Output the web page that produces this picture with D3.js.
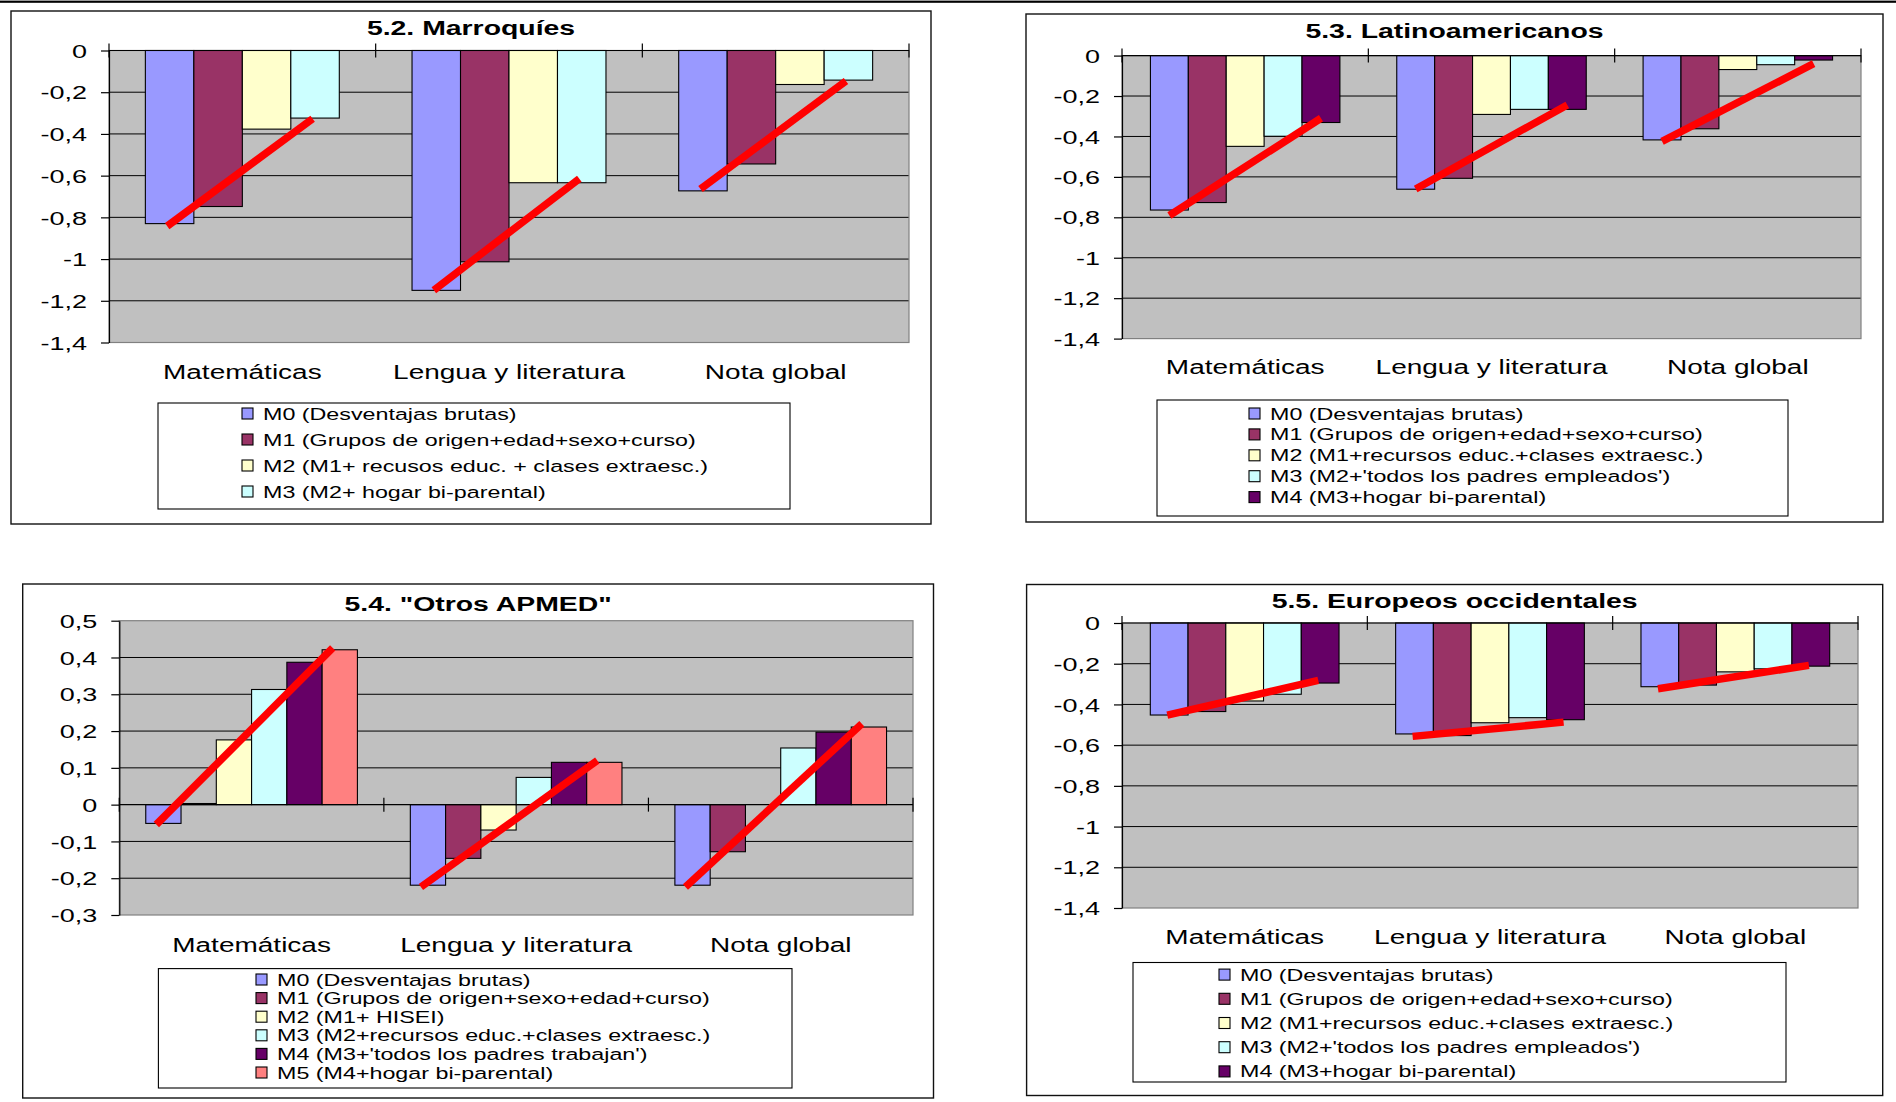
<!DOCTYPE html>
<html>
<head>
<meta charset="utf-8">
<script src="https://cdn.jsdelivr.net/npm/d3@7"></script>
<style>
  html, body { margin: 0; padding: 0; background: #fff; }
  svg { display: block; font-family: "Liberation Sans", Arial, sans-serif; }
</style>
</head>
<body>
<svg id="chart" width="1896" height="1102"></svg>
<script>
// ---- Data -------------------------------------------------------------
const subjects = ["Matemáticas", "Lengua y literatura", "Nota global"];
const modelColors = ["#9999FF", "#993366", "#FFFFCC", "#CCFFFF", "#660066", "#FF8080"];

// 5.2 Marroquíes — one row per model (M0..M3), one value per subject
const titleMarroquies = "5.2. Marroquíes";
const legendMarroquies = [
  "M0 (Desventajas brutas)",
  "M1 (Grupos de origen+edad+sexo+curso)",
  "M2 (M1+ recusos educ. + clases extraesc.)",
  "M3 (M2+ hogar bi-parental)"
];
const valuesMarroquies = [
  [-0.830, -1.150, -0.673],
  [-0.748, -1.013, -0.544],
  [-0.377, -0.634, -0.163],
  [-0.324, -0.634, -0.142]
];
// red trend segment per subject: [start value, end value]
const trendMarroquies = [[-0.842, -0.327], [-1.149, -0.615], [-0.664, -0.146]];
const ticksMarroquies = [0, -0.2, -0.4, -0.6, -0.8, -1, -1.2, -1.4];

// 5.3 Latinoamericanos
const titleLatinos = "5.3. Latinoamericanos";
const legendLatinos = [
  "M0 (Desventajas brutas)",
  "M1 (Grupos de origen+edad+sexo+curso)",
  "M2 (M1+recursos educ.+clases extraesc.)",
  "M3 (M2+'todos los padres empleados')",
  "M4 (M3+hogar bi-parental)"
];
const valuesLatinos = [
  [-0.764, -0.661, -0.417],
  [-0.727, -0.607, -0.362],
  [-0.449, -0.291, -0.069],
  [-0.399, -0.266, -0.045],
  [-0.331, -0.266, -0.022]
];
const trendLatinos = [[-0.791, -0.310], [-0.660, -0.244], [-0.424, -0.040]];
const ticksLatinos = [0, -0.2, -0.4, -0.6, -0.8, -1, -1.2, -1.4];

// 5.4 "Otros APMED"
const titleApmed = "5.4. \"Otros APMED\"";
const legendApmed = [
  "M0 (Desventajas brutas)",
  "M1 (Grupos de origen+sexo+edad+curso)",
  "M2 (M1+ HISEI)",
  "M3 (M2+recursos educ.+clases extraesc.)",
  "M4 (M3+'todos los padres trabajan')",
  "M5 (M4+hogar bi-parental)"
];
const valuesApmed = [
  [-0.051, -0.219, -0.219],
  [0.003, -0.146, -0.128],
  [0.176, -0.069, 0],
  [0.313, 0.074, 0.154],
  [0.387, 0.115, 0.197],
  [0.421, 0.115, 0.211]
];
const trendApmed = [[-0.054, 0.426], [-0.224, 0.120], [-0.224, 0.220]];
const ticksApmed = [0.5, 0.4, 0.3, 0.2, 0.1, 0, -0.1, -0.2, -0.3];

// 5.5 Europeos occidentales
const titleEuropeos = "5.5. Europeos occidentales";
const legendEuropeos = [
  "M0 (Desventajas brutas)",
  "M1 (Grupos de origen+edad+sexo+curso)",
  "M2 (M1+recursos educ.+clases extraesc.)",
  "M3 (M2+'todos los padres empleados')",
  "M4 (M3+hogar bi-parental)"
];
const valuesEuropeos = [
  [-0.452, -0.545, -0.313],
  [-0.435, -0.553, -0.305],
  [-0.383, -0.490, -0.240],
  [-0.350, -0.465, -0.225],
  [-0.295, -0.475, -0.212]
];
const trendEuropeos = [[-0.453, -0.282], [-0.557, -0.487], [-0.323, -0.208]];
const ticksEuropeos = [0, -0.2, -0.4, -0.6, -0.8, -1, -1.2, -1.4];

// ---- Layout -------------------------------------------------------------
const panels = [
  { title: titleMarroquies, legend: legendMarroquies, values: valuesMarroquies, trend: trendMarroquies, ticks: ticksMarroquies,
    frame: [11, 11, 931, 524], plot: [109, 50.5, 909, 342.5], titleY: 34.5, catY: 379,
    legendBox: [158, 403, 790, 509], swatchX: 242, rowY: 413.5, rowStep: 26, trendPos: 0.45 },
  { title: titleLatinos, legend: legendLatinos, values: valuesLatinos, trend: trendLatinos, ticks: ticksLatinos,
    frame: [1026, 14, 1883, 522], plot: [1122, 55.6, 1861, 338.6], titleY: 37.7, catY: 373.5,
    legendBox: [1157, 400, 1788, 516], swatchX: 1249, rowY: 413.5, rowStep: 20.9, trendPos: 0.5 },
  { title: titleApmed, legend: legendApmed, values: valuesApmed, trend: trendApmed, ticks: ticksApmed,
    frame: [22.7, 584, 933.5, 1098], plot: [119.3, 620.7, 913, 915], titleY: 611, catY: 951.5,
    legendBox: [158.4, 968.6, 792, 1088], swatchX: 256, rowY: 979.5, rowStep: 18.6, trendPos: 0.3 },
  { title: titleEuropeos, legend: legendEuropeos, values: valuesEuropeos, trend: trendEuropeos, ticks: ticksEuropeos,
    frame: [1026.6, 584.5, 1882.7, 1095.5], plot: [1122, 623, 1858, 908], titleY: 607.5, catY: 944,
    legendBox: [1133, 962.5, 1786, 1082], swatchX: 1219, rowY: 974.6, rowStep: 24.2, trendPos: 0.45 }
];

// wide-set lettering used throughout the figure
const STRETCH_TITLE = 1.42, STRETCH_TICK = 1.42, STRETCH_CAT = 1.4, STRETCH_LEG = 1.37;
const decimalComma = d => String(+d.toFixed(1)).replace(".", ",");

const svg = d3.select("#chart");

// rule across the top of the page
svg.append("rect").attr("x", 0).attr("y", 0.6).attr("width", 1896).attr("height", 2.2).attr("fill", "#000");

function wideText(parent, x, y, str, size, sx, anchor, weight) {
  return parent.append("text")
    .attr("transform", `translate(${x},${y}) scale(${sx},1)`)
    .attr("text-anchor", anchor)
    .attr("font-size", size)
    .attr("font-weight", weight || "normal")
    .attr("fill", "#000")
    .text(str);
}

function drawPanel(cfg) {
  const g = svg.append("g");
  const [fx0, fy0, fx1, fy1] = cfg.frame;
  const [L, T, R, B] = cfg.plot;

  g.append("rect")
    .attr("x", fx0).attr("y", fy0).attr("width", fx1 - fx0).attr("height", fy1 - fy0)
    .attr("fill", "#fff").attr("stroke", "#111").attr("stroke-width", 1.4);

  wideText(g, (fx0 + fx1) / 2, cfg.titleY, cfg.title, 20, STRETCH_TITLE, "middle", "bold");

  const domain = d3.extent(cfg.ticks);
  const y = d3.scaleLinear().domain(domain).range([B, T]);
  const x0 = d3.scaleBand().domain(subjects).range([L, R]).padding(0);
  const x1 = d3.scaleBand().domain(d3.range(cfg.values.length))
    .range([0, x0.bandwidth()]).paddingInner(0).paddingOuter(0.75);

  // plot area
  g.append("rect").attr("x", L).attr("y", T).attr("width", R - L).attr("height", B - T).attr("fill", "#C0C0C0");

  // horizontal gridlines
  g.selectAll("line.grid")
    .data(cfg.ticks.filter(t => t !== 0 && t !== domain[0] && t !== domain[1]))
    .join("line").attr("class", "grid")
    .attr("x1", L).attr("x2", R)
    .attr("y1", d => y(d)).attr("y2", d => y(d))
    .attr("stroke", "#000").attr("stroke-width", 1);

  // plot area border
  g.append("rect").attr("x", L).attr("y", T).attr("width", R - L).attr("height", B - T)
    .attr("fill", "none").attr("stroke", "#808080").attr("stroke-width", 1.2);

  // bars
  const bars = [];
  cfg.values.forEach((row, m) => row.forEach((v, i) => bars.push({ m, subject: subjects[i], v })));
  g.selectAll("rect.bar").data(bars).join("rect").attr("class", "bar")
    .attr("x", d => x0(d.subject) + x1(d.m))
    .attr("width", x1.bandwidth())
    .attr("y", d => y(Math.max(0, d.v)))
    .attr("height", d => Math.abs(y(d.v) - y(0)))
    .attr("fill", d => modelColors[d.m])
    .attr("stroke", "#000").attr("stroke-width", 1.1);

  // category axis at zero with cross ticks at band edges
  const y0 = y(0);
  g.append("line").attr("x1", L).attr("x2", R).attr("y1", y0).attr("y2", y0)
    .attr("stroke", "#000").attr("stroke-width", 1.2);
  const edges = [x0.range()[0]].concat(subjects.map(s => x0(s) + x0.bandwidth()));
  g.selectAll("line.ctick").data(edges).join("line").attr("class", "ctick")
    .attr("x1", d => d).attr("x2", d => d)
    .attr("y1", y0 - 7).attr("y2", y0 + 7)
    .attr("stroke", "#000").attr("stroke-width", 1.2);

  // value axis
  const axis = g.append("g").attr("transform", `translate(${L},0)`)
    .call(d3.axisLeft(y).tickValues(cfg.ticks).tickSize(8).tickSizeOuter(0).tickFormat(decimalComma));
  axis.select(".domain").attr("stroke", "#000").attr("stroke-width", 1.2);
  axis.selectAll(".tick line").attr("stroke", "#000").attr("stroke-width", 1.2);
  axis.selectAll(".tick text")
    .attr("font-size", 19).attr("font-family", "Liberation Sans, Arial, sans-serif")
    .attr("fill", "#000").attr("dy", "0.35em")
    .attr("x", -22 / STRETCH_TICK)
    .attr("transform", `scale(${STRETCH_TICK},1)`);

  // red trend segments from the first to the last model in each subject
  const last = cfg.values.length - 1;
  const bw = x1.bandwidth();
  g.selectAll("line.trend").data(cfg.trend).join("line").attr("class", "trend")
    .attr("x1", (d, i) => x0(subjects[i]) + x1(0) + cfg.trendPos * bw)
    .attr("x2", (d, i) => x0(subjects[i]) + x1(last) + cfg.trendPos * bw)
    .attr("y1", d => y(d[0])).attr("y2", d => y(d[1]))
    .attr("stroke", "#FF0000").attr("stroke-width", 7.5).attr("stroke-linecap", "butt");

  // subject labels
  subjects.forEach(s => wideText(g, x0(s) + x0.bandwidth() / 2, cfg.catY, s, 20, STRETCH_CAT, "middle"));

  // legend
  const [lx0, ly0, lx1, ly1] = cfg.legendBox;
  g.append("rect").attr("x", lx0).attr("y", ly0).attr("width", lx1 - lx0).attr("height", ly1 - ly0)
    .attr("fill", "#fff").attr("stroke", "#000").attr("stroke-width", 1.1);
  cfg.legend.forEach((label, m) => {
    const cy = cfg.rowY + m * cfg.rowStep;
    g.append("rect").attr("x", cfg.swatchX).attr("y", cy - 5.5).attr("width", 11).attr("height", 11)
      .attr("fill", modelColors[m]).attr("stroke", "#000").attr("stroke-width", 1.1);
    wideText(g, cfg.swatchX + 21, cy + 6, label, 17, STRETCH_LEG, "start");
  });
}

panels.forEach(drawPanel);
</script>
</body>
</html>
